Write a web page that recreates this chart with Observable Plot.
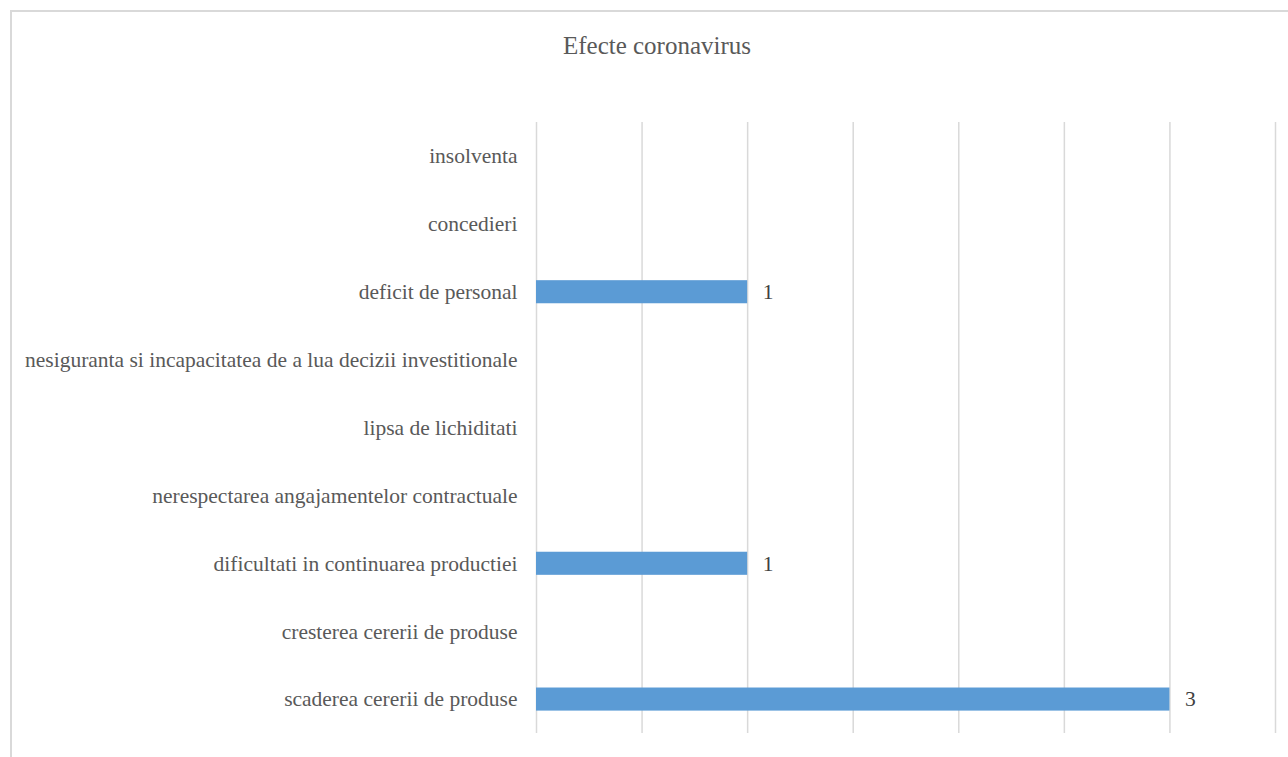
<!DOCTYPE html>
<html><head><meta charset="utf-8">
<script src="https://cdn.jsdelivr.net/npm/d3@7"></script>
<script src="https://cdn.jsdelivr.net/npm/@observablehq/plot@0.6"></script>
<style>
body{margin:0;background:#fff;overflow:hidden;width:1288px;height:757px;position:relative}
#frame{position:absolute;left:10px;top:10px;width:1300px;height:800px;border:2px solid #d9d9d9;box-sizing:border-box}
#chart{position:absolute;left:0;top:0}
#title{position:absolute;left:10px;width:1294px;top:32px;text-align:center;font:25px "Liberation Serif";color:#595959}
</style>
</head><body>
<div id="frame"></div>
<div id="chart"></div>
<div id="title">Efecte coronavirus</div>
<script>
const categories = [
  "insolventa",
  "concedieri",
  "deficit de personal",
  "nesiguranta si incapacitatea de a lua decizii investitionale",
  "lipsa de lichiditati",
  "nerespectarea angajamentelor contractuale",
  "dificultati in continuarea productiei",
  "cresterea cererii de produse",
  "scaderea cererii de produse"
];
const values = [0, 0, 1, 0, 0, 0, 1, 0, 3];
const xTicks = [0, 0.5, 1, 1.5, 2, 2.5, 3, 3.5];

const data = categories.map((c, i) => ({category: c, value: values[i]}));
const labelled = data.filter(d => d.value > 0);

const plot = Plot.plot({
  width: 1288,
  height: 757,
  marginLeft: 536,
  marginRight: 13,
  marginTop: 122,
  marginBottom: 24,
  style: {fontFamily: "Liberation Serif", background: "transparent"},
  x: {domain: [0, 3.5], axis: null},
  y: {domain: categories, paddingInner: 0.66, paddingOuter: 0.33, round: false, label: null},
  marks: [
    Plot.gridX(xTicks, {stroke: "#d9d9d9", strokeOpacity: 1, strokeWidth: 1.5}),
    Plot.barX(data, {x: "value", y: "category", fill: "#5b9bd5"}),
    Plot.text(labelled, {x: "value", y: "category", text: d => String(d.value), textAnchor: "start", dx: 15, fill: "#404040", fontSize: 21.5}),
    Plot.axisY({tickSize: 0, tickPadding: 19, fontSize: 21.5, fill: "#595959", label: null})
  ]
});
document.getElementById("chart").appendChild(plot);
</script>
</body></html>
